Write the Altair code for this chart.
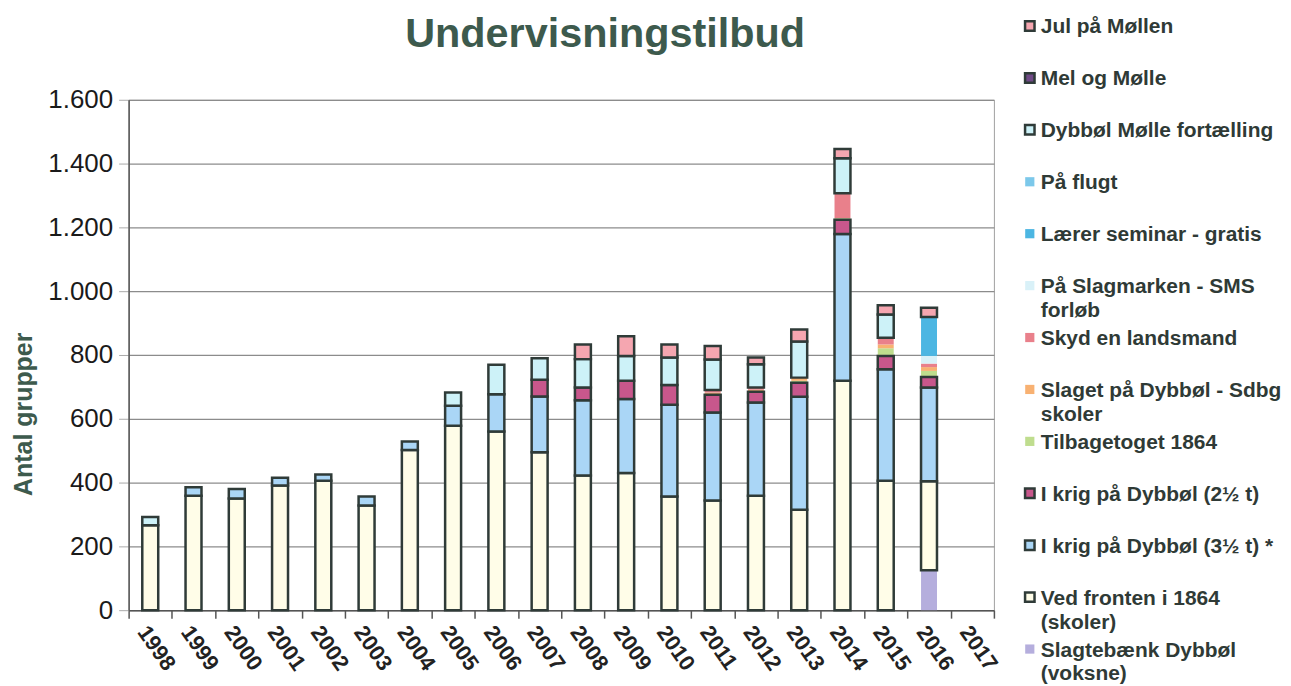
import altair as alt
import pandas as pd

years = [str(y) for y in range(1998, 2018)]

# stacking order, bottom -> top
series = [
    "Slagtebænk Dybbøl (voksne)",
    "Ved fronten i 1864 (skoler)",
    "I krig på Dybbøl (3½ t) *",
    "I krig på Dybbøl (2½ t)",
    "Tilbagetoget 1864",
    "Slaget på Dybbøl - Sdbg skoler",
    "Skyd en landsmand",
    "På Slagmarken - SMS forløb",
    "Lærer seminar - gratis",
    "På flugt",
    "Dybbøl Mølle fortælling",
    "Mel og Mølle",
    "Jul på Møllen",
]

#                       1998 1999 2000 2001 2002 2003 2004 2005 2006 2007 2008 2009 2010 2011 2012 2013 2014 2015 2016 2017
slagtebaenk =          [0,   0,   0,   0,   0,   0,   0,   0,   0,   0,   0,   0,   0,   0,   0,   0,   0,   0,   125, 0]
ved_fronten =          [266, 359, 350, 391, 406, 328, 502, 578, 560, 495, 422, 430, 356, 344, 359, 315, 719, 406, 279, 0]
krig_35 =              [0,   26,  30,  24,  19,  28,  27,  63,  117, 175, 236, 232, 288, 276, 292, 354, 460, 349, 294, 0]
krig_25 =              [0,   0,   0,   0,   0,   0,   0,   0,   0,   52,  40,  57,  62,  55,  34,  44,  45,  42,  33,  0]
tilbagetoget =         [0,   0,   0,   0,   0,   0,   0,   0,   0,   0,   0,   0,   0,   0,   0,   6,   5,   24,  19,  0]
slaget =               [0,   0,   0,   0,   0,   0,   0,   0,   0,   0,   0,   0,   0,   7,   6,   10,  0,   12,  12,  0]
skyd =                 [0,   0,   0,   0,   0,   0,   0,   0,   0,   0,   0,   0,   0,   8,   7,   0,   78,  21,  11,  0]
slagmarken_sms =       [0,   0,   0,   0,   0,   0,   0,   0,   0,   0,   0,   0,   0,   0,   0,   0,   0,   0,   24,  0]
laerer_seminar =       [0,   0,   0,   0,   0,   0,   0,   0,   0,   0,   0,   0,   0,   0,   0,   0,   0,   0,   122, 0]
paa_flugt =            [0,   0,   0,   0,   0,   0,   0,   0,   0,   0,   0,   0,   0,   0,   0,   0,   0,   0,   0,   0]
moelle_fortaelling =   [26,  0,   0,   0,   0,   0,   0,   41,  92,  68,  89,  78,  86,  96,  73,  113, 110, 73,  0,   0]
mel_og_moelle =        [0,   0,   0,   0,   0,   0,   0,   0,   0,   0,   0,   0,   0,   0,   0,   0,   0,   0,   0,   0]
jul_paa_moellen =      [0,   0,   0,   0,   0,   0,   0,   0,   0,   0,   46,  62,  41,  42,  21,  38,  29,  29,  29,  0]

values = [slagtebaenk, ved_fronten, krig_35, krig_25, tilbagetoget, slaget, skyd,
          slagmarken_sms, laerer_seminar, paa_flugt, moelle_fortaelling,
          mel_og_moelle, jul_paa_moellen]

colors = ["#b5aedd", "#fffde8", "#aad6f6", "#c8578c", "#bfdd8e", "#f8b172",
          "#e9808b", "#d9f1f8", "#4cb6e2", "#7cc8ea", "#cdf2f8", "#6f4a86", "#f5a6b0"]
bordered = [False, True, True, True, False, False, False, False, False, False, True, True, True]

wrapped = {
    "På Slagmarken - SMS forløb": "På Slagmarken - SMS\nforløb",
    "Slaget på Dybbøl - Sdbg skoler": "Slaget på Dybbøl - Sdbg\nskoler",
    "Ved fronten i 1864 (skoler)": "Ved fronten i 1864\n(skoler)",
    "Slagtebænk Dybbøl (voksne)": "Slagtebænk Dybbøl\n(voksne)",
}

rows = []
for i, (name, vals) in enumerate(zip(series, values)):
    for y, v in zip(years, vals):
        rows.append({"year": y, "series": name, "value": v, "order": i,
                     "bordered": bordered[i]})
df = pd.DataFrame(rows)

legend_order = list(reversed(series))
legend_df = pd.DataFrame({
    "series": legend_order,
    "label": [wrapped.get(s, s) for s in legend_order],
    "bordered": [bordered[series.index(s)] for s in legend_order],
})

FONT = "Liberation Sans"
GREEN = "#3d5a4d"
STROKE = "#2f3b38"

color = alt.Color("series:N", scale=alt.Scale(domain=series, range=colors), legend=None)

x_enc = alt.X("year:N", sort=years,
              scale=alt.Scale(domain=years, paddingInner=0, paddingOuter=0),
              axis=alt.Axis(title=None, labelAngle=55, labelAlign="left", labelBaseline="top",
                            labelFontSize=22, labelFontWeight="bold", labelFont=FONT,
                            labelColor="#222222", labelPadding=4, tickBand="extent",
                            tickSize=8, tickColor="#555555", tickWidth=1.5,
                            domainColor="#555555", domainWidth=1.5, grid=False))

y_enc = alt.Y("y0:Q", scale=alt.Scale(domain=[0, 1600], nice=False),
              axis=alt.Axis(values=list(range(0, 1601, 200)), title="Antal grupper",
                            labelExpr="replace(format(datum.value, ','), ',', '.')",
                            labelFontSize=26, labelFont=FONT, labelColor="#1a1a1a",
                            labelPadding=6, tickSize=10, tickColor="#aaaaaa",
                            domainColor="#555555", domainWidth=1.5,
                            gridColor="#8c8c8c", gridWidth=1.3,
                            titleFont=FONT, titleFontSize=25, titleFontWeight="bold",
                            titleColor=GREEN, titleX=-105, titleY=315, titleAngle=270,
                            titleAlign="center", titleBaseline="middle"))

base = alt.Chart(df).transform_filter("datum.value > 0").transform_stack(
    stack="value", groupby=["year"], as_=["y0", "y1"],
    sort=[alt.SortField("order", order="ascending")])

plain = base.transform_filter("!datum.bordered").mark_bar(size=16).encode(
    x=x_enc, y=y_enc, y2="y1:Q", color=color)
boxed = base.transform_filter("datum.bordered").mark_bar(
    size=16, stroke=STROKE, strokeWidth=2.5).encode(
    x=x_enc, y=y_enc, y2="y1:Q", color=color)

main = alt.layer(plain, boxed).properties(
    width=868, height=512,
    title=alt.TitleParams("Undervisningstilbud", fontSize=41.5, font=FONT, fontWeight="bold",
                          color=GREEN, anchor="middle", frame="group", dx=44, offset=0,
                          dy=2, baseline="alphabetic"),
    view=alt.ViewBackground(stroke="#a0a0a0", strokeWidth=1),
)

ly = alt.Y("series:N", sort=legend_order,
           scale=alt.Scale(domain=legend_order, range=[-74, 551], padding=0), axis=None)

leg_base = alt.Chart(legend_df)
leg_plain = leg_base.transform_filter("!datum.bordered").mark_square(size=85, opacity=1).encode(
    x=alt.value(0), y=ly, color=color)
leg_boxed = leg_base.transform_filter("datum.bordered").mark_square(
    size=90, opacity=1, stroke=STROKE, strokeWidth=2.5).encode(
    x=alt.value(0), y=ly, color=color)
leg_text = leg_base.mark_text(align="left", baseline="alphabetic", dx=11, dy=7.5,
                              fontSize=21, fontWeight="bold", font=FONT, color="#2f3a36",
                              lineBreak="\n", lineHeight=24).encode(
    x=alt.value(0), y=ly, text="label:N")

legend = alt.layer(leg_plain, leg_boxed, leg_text).properties(
    width=250, height=512, view=alt.ViewBackground(stroke="transparent"))

chart = alt.hconcat(main, legend, spacing=36, bounds="flush").properties(
    padding={"left": 3, "top": 5, "right": 0, "bottom": 0}
).configure(background="white")

chart.save("out.html", embed_options={"renderer": "svg", "actions": False})
